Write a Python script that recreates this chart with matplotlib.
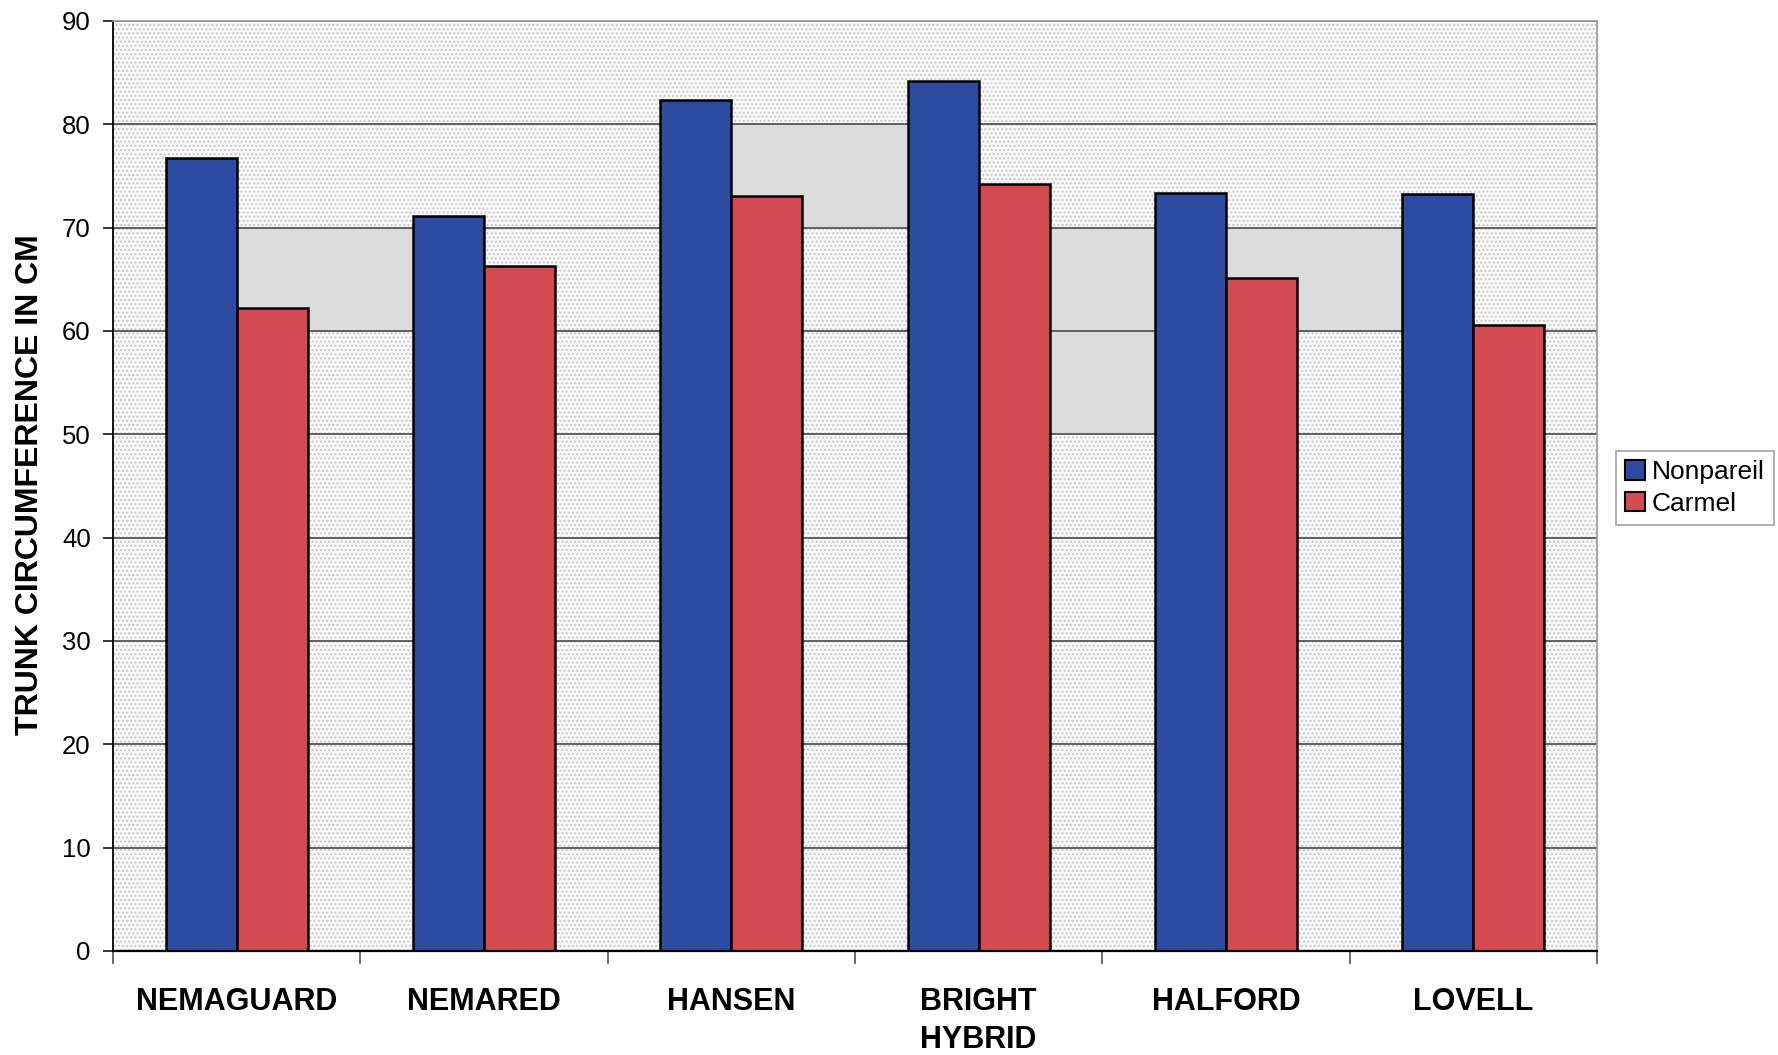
import numpy as np
import matplotlib
matplotlib.use("Agg")
import matplotlib.pyplot as plt
from matplotlib.patches import Rectangle, Patch

plt.rcParams['font.family'] = ['Liberation Sans', 'DejaVu Sans']

# Data: mean trunk circumference (cm) by rootstock and scion variety
rootstocks = ["NEMAGUARD", "NEMARED", "HANSEN", "BRIGHT\nHYBRID", "HALFORD", "LOVELL"]
nonpareil = [76.7, 71.1, 82.4, 84.2, 73.4, 73.3]
carmel = [62.2, 66.3, 73.1, 74.2, 65.1, 60.6]
series_names = ["Nonpareil", "Carmel"]
y_ticks = [0, 10, 20, 30, 40, 50, 60, 70, 80, 90]

blue = "#2c4ba1"
red = "#d34b50"
w = 0.287

fig = plt.figure(figsize=(17.78, 10.55), dpi=100)
ax = fig.add_axes([113 / 1778, 1 - 951 / 1055, 1484 / 1778, (951 - 21) / 1055])

x = np.arange(len(rootstocks))
ax.set_xlim(-0.5, len(rootstocks) - 0.5)
ax.set_ylim(0, 90)

# dotted plot-area fill
ax.patch.set_facecolor("white")
bg = Rectangle((0, 0), 1, 1, transform=ax.transAxes, facecolor="#f9f9f9",
               edgecolor="#c8c8c8", hatch="....", linewidth=0, zorder=0.1)
ax.add_patch(bg)

# shaded panels between the bar groups
shade = "#dcdcdc"
panels = [(x[0], x[1] - w, 60, 70), (x[2], x[3] - w, 70, 80),
          (x[3] + w, x[4] - w, 50, 60), (x[3] + w, x[5] - w, 60, 70)]
for x0, x1, y0, y1 in panels:
    ax.add_patch(Rectangle((x0, y0), x1 - x0, y1 - y0, facecolor=shade,
                           edgecolor="none", zorder=0.2))

# horizontal gridlines
for yv in y_ticks[1:]:
    ax.axhline(yv, color="#555555", linewidth=1.3, zorder=0.5)

ax.bar(x - w / 2, nonpareil, w, color=blue, edgecolor="black", linewidth=1.8, zorder=2)
ax.bar(x + w / 2, carmel, w, color=red, edgecolor="black", linewidth=1.8, zorder=2)

# spines
ax.spines['left'].set_color("black")
ax.spines['left'].set_linewidth(1.3)
ax.spines['bottom'].set_color("black")
ax.spines['bottom'].set_linewidth(1.6)
ax.spines['right'].set_color("#9a9a9a")
ax.spines['right'].set_linewidth(1.2)
ax.spines['top'].set_color("#9a9a9a")
ax.spines['top'].set_linewidth(1.2)

ax.set_yticks(y_ticks)
ax.tick_params(axis='y', direction='out', length=7.5, width=1.1, pad=8.5,
               labelsize=18.5, colors="black")

ax.set_xticks(x)
ax.set_xticklabels(rootstocks, fontsize=22, fontweight='bold', linespacing=1.35)
ax.tick_params(axis='x', which='major', length=0, pad=26)
ax.set_xticks(np.arange(-0.5, len(rootstocks)), minor=True)
ax.tick_params(axis='x', which='minor', direction='out', length=9, width=1.1,
               color="#444444")
for lab in ax.get_xticklabels():
    lab.set_verticalalignment('top')

fig.text(30 / 1778, 1 - 485 / 1055, "TRUNK CIRCUMFERENCE IN CM", rotation=90,
         ha='center', va='center', fontsize=23, fontweight='bold')

handles = [Patch(facecolor=blue, edgecolor="black", linewidth=1.5),
           Patch(facecolor=red, edgecolor="black", linewidth=1.5)]
leg = fig.legend(handles, series_names, loc='center',
                 bbox_to_anchor=(1695 / 1778, 1 - 488 / 1055),
                 fontsize=19, frameon=True, fancybox=False,
                 handlelength=0.75, handleheight=0.75, handletextpad=0.25,
                 labelspacing=0.3, borderpad=0.35, borderaxespad=0)
leg.get_frame().set_edgecolor("#8a8a8a")
leg.get_frame().set_linewidth(1.2)

fig.savefig("out.png", dpi=100, facecolor="white")
